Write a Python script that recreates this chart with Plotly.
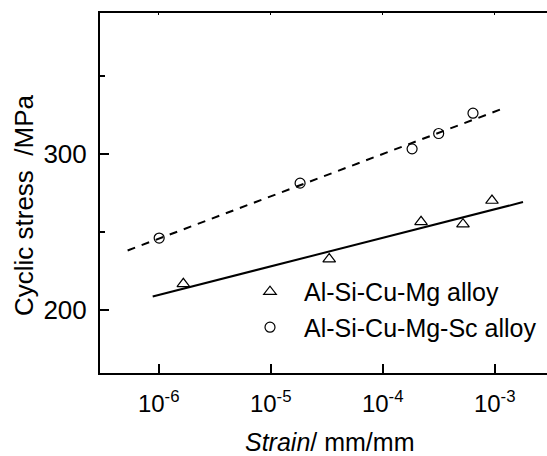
import plotly.graph_objects as go

# --- data ---
tri_x = [1.66e-6, 3.33e-5, 2.20e-4, 5.21e-4, 9.46e-4]
tri_y = [217.0, 232.8, 256.6, 255.1, 270.2]
cir_x = [1.01e-6, 1.83e-5, 1.83e-4, 3.16e-4, 6.40e-4]
cir_y = [246.2, 281.3, 303.2, 313.0, 326.0]
fit_tri_x = [8.84e-7, 1.79e-3]
fit_tri_y = [208.9, 269.2]
fit_cir_x = [5.28e-7, 1.24e-3]
fit_cir_y = [238.3, 329.5]
x_tickvals = [1e-6, 1e-5, 1e-4, 1e-3]
x_ticktext = ["10<sup>-6</sup>", "10<sup>-5</sup>", "10<sup>-4</sup>", "10<sup>-3</sup>"]
y_tickvals = [200, 300]
y_ticktext = ["200", "300"]
series_names = ["Al-Si-Cu-Mg alloy", "Al-Si-Cu-Mg-Sc alloy"]

FONT = "Liberation Sans, Arial, sans-serif"

fig = go.Figure()
fig.add_trace(go.Scatter(x=fit_tri_x, y=fit_tri_y, mode="lines",
                         line=dict(color="black", width=2), showlegend=False))
fig.add_trace(go.Scatter(x=fit_cir_x, y=fit_cir_y, mode="lines",
                         line=dict(color="black", width=2, dash="8px,7px"), showlegend=False))
fig.add_trace(go.Scatter(x=tri_x, y=tri_y, mode="markers", name=series_names[0],
                         marker=dict(symbol="triangle-up-open", size=11, color="black",
                                     line=dict(width=1.2, color="black"))))
fig.add_trace(go.Scatter(x=cir_x, y=cir_y, mode="markers", name=series_names[1],
                         marker=dict(symbol="circle-open", size=10, color="black",
                                     line=dict(width=1.2, color="black"))))
# invisible trace on top axis for mirrored short ticks
fig.add_trace(go.Scatter(x=cir_x, y=cir_y, mode="markers", xaxis="x2", showlegend=False,
                         marker=dict(opacity=0), hoverinfo="skip"))

fig.update_layout(
    width=547, height=456,
    margin=dict(l=100, r=0, t=13, b=83),
    paper_bgcolor="white", plot_bgcolor="white",
    font=dict(family=FONT, color="black", size=25),
    showlegend=True,
    legend=dict(x=(236 - 100) / 447, y=0.1765, xanchor="left", yanchor="middle",
                bgcolor="rgba(0,0,0,0)", font=dict(size=25, family=FONT),
                itemwidth=58, tracegroupgap=0),
    xaxis=dict(type="log", range=[-6.524, -2.533], showgrid=False, zeroline=False,
               showline=True, linecolor="black", linewidth=2,
               ticks="inside", ticklen=9, tickwidth=1.5, tickcolor="black",
               tickvals=x_tickvals, ticktext=x_ticktext,
               tickfont=dict(size=24, family=FONT), ticklabelstandoff=8),
    xaxis2=dict(type="log", range=[-6.524, -2.533], overlaying="x", side="top",
                showgrid=False, zeroline=False, showline=True, linecolor="black", linewidth=2,
                ticks="inside", ticklen=2, tickwidth=1, tickcolor="black",
                tickvals=x_tickvals, showticklabels=False),
    yaxis=dict(range=[160, 390], showgrid=False, zeroline=False,
               showline=True, linecolor="black", linewidth=2,
               ticks="inside", ticklen=9, tickwidth=1.5, tickcolor="black",
               tickvals=y_tickvals, ticktext=y_ticktext,
               tickfont=dict(size=26, family=FONT, color="black"),
               ticklabelstandoff=6,
               minor=dict(tickvals=[250, 350], ticks="inside", ticklen=5,
                          tickwidth=1.5, tickcolor="black", showgrid=False)),
    annotations=[
        dict(text="Cyclic stress\u00a0 /MPa", textangle=-90, xref="paper", yref="paper",
             x=(24 - 100) / 447, y=(372.7 - 205) / 359.4, xanchor="center", yanchor="middle",
             showarrow=False, font=dict(size=26, family=FONT)),
        dict(text="<i>Strain</i>/ mm/mm", xref="paper", yref="paper",
             x=(329 - 100) / 447, y=(372.7 - 442) / 359.4, xanchor="center", yanchor="middle",
             showarrow=False, font=dict(size=25, family=FONT)),
    ],
)

fig.write_html("out.html")
